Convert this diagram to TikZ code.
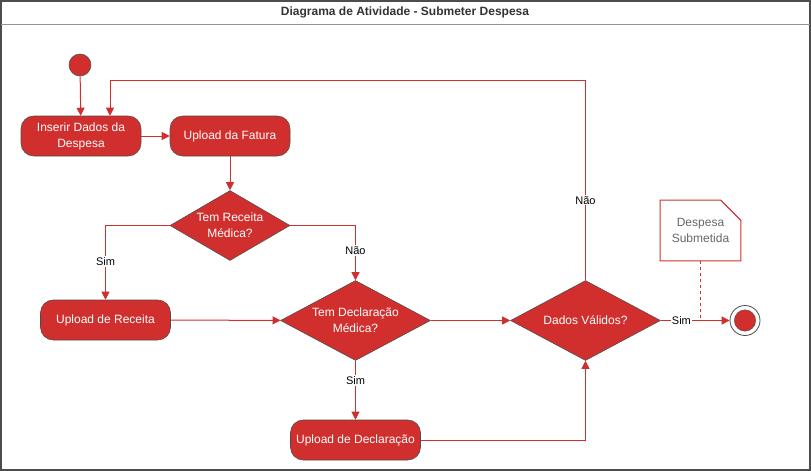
\documentclass[tikz,border=0pt]{standalone}
\usepackage{fontspec}
\setmainfont{Liberation Sans}
\usetikzlibrary{arrows.meta,shapes.geometric,calc}

\definecolor{actred}{RGB}{208,47,45}
\definecolor{edgegray}{RGB}{77,77,77}
\definecolor{titlegray}{RGB}{51,51,51}
\definecolor{notegray}{RGB}{102,102,102}

\tikzset{
  actbox/.style={draw=edgegray,fill=actred,rounded corners=9.5pt,text=white,align=center,
    minimum height=30pt,inner sep=0pt,font=\fontsize{9}{12}\selectfont},
  decbox/.style={diamond,draw=edgegray,fill=actred,text=white,align=center,
    inner sep=0pt,aspect=1.6,font=\fontsize{9}{12}\selectfont},
  flow/.style={draw=actred,line width=0.75pt,-{Triangle[length=6pt,width=6pt]}},
  flowlabel/.style={fill=white,inner sep=1pt,text=black,font=\fontsize{8.25}{10}\selectfont},
}

\begin{document}
\begin{tikzpicture}[x=0.75pt,y=0.75pt,yscale=-1,xscale=1]
\useasboundingbox (0,0) rectangle (811,471);

% Frame
\draw[edgegray,line width=1.5pt] (1,1) rectangle (809.5,469.5);
\draw[gray!85,line width=1.2pt] (1,24.5) -- (809.5,24.5);
% Title
\draw (405,12.5) node [font=\bfseries\fontsize{9}{11}\selectfont,text=titlegray] (title) {Diagrama de Atividade - Submeter Despesa};

% Start Node
\node [circle,fill=actred,draw=edgegray,line width=0.4pt,minimum size=16.5pt,inner sep=0pt] (start) at (80,65) {};
% Activity Nodes
\node [actbox,minimum width=90pt] (inserir) at (81,136) {Inserir Dados da\\Despesa};
\node [actbox,minimum width=90pt] (fatura) at (230,136) {Upload da Fatura};
\node [actbox,minimum width=97.5pt] (receita) at (105.5,320) {Upload de Receita};
\node [actbox,minimum width=97.5pt] (declaracao) at (355.5,440) {Upload de Declaração};
% Decision Nodes
\node [decbox,minimum width=90pt,minimum height=52.5pt] (temrec) at (230,225.5) {Tem Receita\\Médica?};
\node [decbox,minimum width=112.5pt,minimum height=60pt] (temdec) at (355.5,320.5) {Tem Declaração\\Médica?};
\node [decbox,minimum width=112.5pt,minimum height=60pt] (dados) at (585.5,320.5) {Dados Válidos?};
% End Node
\node [circle,draw=edgegray,fill=white,line width=0.6pt,minimum size=22.5pt,inner sep=0pt] (fim) at (745,320.5) {};
\node [circle,fill=actred,draw=edgegray,line width=0.3pt,minimum size=16pt,inner sep=0pt] (fimin) at (fim) {};
% Note
\node [minimum width=60pt,minimum height=45pt,inner sep=0pt,align=center,text=notegray,
  font=\fontsize{9}{12}\selectfont] (nota) at (700.5,230.5) {Despesa\\Submetida};
\draw [actred,line width=0.75pt] (nota.south west) -- (nota.north west) -- ($(nota.north east)+(-20,0)$)
  -- ($(nota.north east)+(0,20)$) -- (nota.south east) -- cycle;
\draw [actred,line width=0.5pt] ($(nota.north east)+(-20,0)$) -- ($(nota.north east)+(0,20)$);

% Connections
\coordinate (volta) at (110,80);
\draw [flow] (start) -- (inserir);
\draw [flow] (inserir) -- (fatura);
\draw [flow] (fatura) -- (temrec);
\draw [flow] (temrec.west) -| node [flowlabel,pos=0.74] {Sim} (receita.north);
\draw [flow] (temrec.east) -| node [flowlabel,pos=0.73] {Não} (temdec.north);
\draw [flow] (receita) -- (temdec);
\draw [flow] (temdec) -- (dados);
\draw [flow] (temdec) -- node [flowlabel,pos=0.33] {Sim} (declaracao);
\draw [flow] (declaracao.east) -| (dados.south);
\draw [flow] (dados.north) |- node [flowlabel,pos=0.2] {Não} (volta) -- (volta |- inserir.north);
\draw [flow] (dados) -- node [flowlabel,pos=0.3] {Sim} (fim);
\draw [actred,line width=0.75pt,dashed,dash pattern=on 2.5pt off 2pt] (nota.south) -- (nota.south |- dados.east);
\end{tikzpicture}
\end{document}
